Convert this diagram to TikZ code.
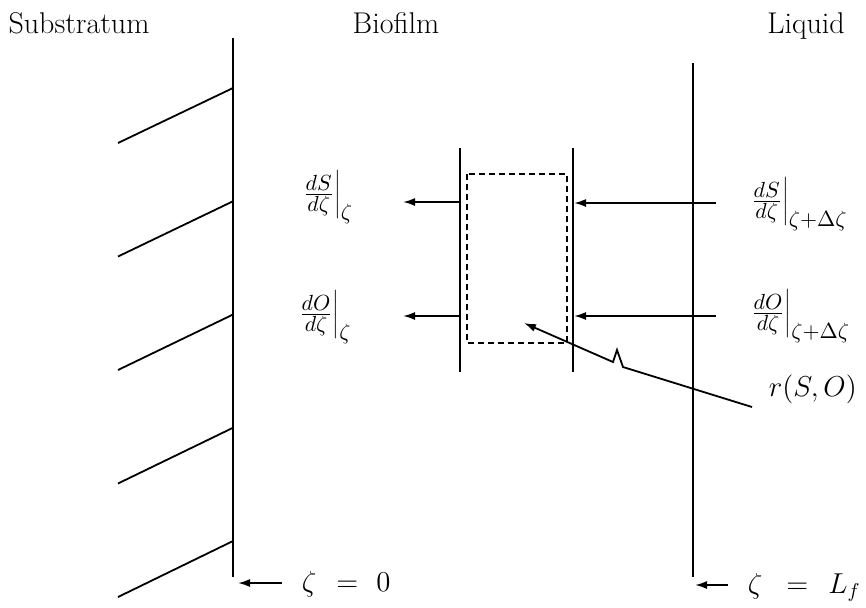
\documentclass[tikz,border=0pt]{standalone}
\usetikzlibrary{arrows.meta}
\begin{document}
\begin{tikzpicture}[x=0.5pt,y=-0.5pt,line width=0.9pt,
  arr/.style={-{Latex[length=6pt,width=4pt]}},
  lbl/.style={inner sep=0pt,font=\fontsize{15}{18}\selectfont},
  zlbl/.style={inner sep=0pt,font=\fontsize{14}{17}\selectfont},
  dashbox/.style={dash pattern=on 3pt off 2pt}]
\useasboundingbox (0,0) rectangle (866,607);
% titles
\node[lbl,anchor=base] (sub) at (79,33) {Substratum};
\node[lbl,anchor=base] (bio) at (396,33) {Biofilm};
\node[lbl,anchor=base] (liq) at (806,33) {Liquid};
% main interfaces
\coordinate (LT) at (233,38); \coordinate (LB) at (233,577);
\coordinate (RT) at (693,63); \coordinate (RB) at (693,577);
\draw (LT) -- (LB);
\draw (RT) -- (RB);
% hatching of the substratum
\foreach \i in {0,...,4}{
  \coordinate (h\i a) at (118,{143+113.5*\i});
  \coordinate (h\i b) at (233,{88+113.25*\i});
  \draw (h\i a) -- (h\i b);
}
% control volume
\coordinate (AT) at (460,148); \coordinate (AB) at (460,372);
\coordinate (BT) at (573,148); \coordinate (BB) at (573,372);
\draw (AT) -- (AB);
\draw (BT) -- (BB);
\coordinate (box1) at (467,174); \coordinate (box2) at (567,343);
\draw[dashbox,line width=0.8pt] (box1) rectangle (box2);
% flux arrows
\coordinate (s1) at (716,203); \coordinate (s1t) at (574,203);
\coordinate (s2) at (460,202); \coordinate (s2t) at (403,202);
\coordinate (o1) at (716,316); \coordinate (o1t) at (574,316);
\coordinate (o2) at (460,316); \coordinate (o2t) at (403,316);
\draw[arr] (s1) -- (s1t);
\draw[arr] (s2) -- (s2t);
\draw[arr] (o1) -- (o1t);
\draw[arr] (o2) -- (o2t);
% flux labels
\node[lbl,anchor=base west] (dSl) at (300,202) {$\left.\frac{dS}{d\zeta}\right|_{\zeta}$};
\node[lbl,anchor=base west] (dOl) at (296,322) {$\left.\frac{dO}{d\zeta}\right|_{\zeta}$};
\node[lbl,anchor=base west] (dSr) at (748,209) {$\left.\frac{dS}{d\zeta}\right|_{\zeta+\Delta\zeta}$};
\node[lbl,anchor=base west] (dOr) at (748,321) {$\left.\frac{dO}{d\zeta}\right|_{\zeta+\Delta\zeta}$};
% reaction
\node[lbl,anchor=base west] (r) at (768,396) {$r(S,O)$};
\coordinate (rE) at (752,407);
\coordinate (zR) at (623,367);
\coordinate (zQ) at (617,350);
\coordinate (zP) at (613,362);
\coordinate (rT) at (524,323);
\draw[arr,line join=miter] (rE) -- (zR) -- (zQ) -- (zP) -- (rT);
% boundary positions
\coordinate (z0s) at (282,583); \coordinate (z0t) at (238,583);
\draw[arr] (z0s) -- (z0t);
\node[zlbl,anchor=base west] (z0) at (301,591) {$\zeta\hspace{6pt}=\hspace{5pt}0$};
\coordinate (zLs) at (728,585); \coordinate (zLt) at (695,585);
\draw[arr] (zLs) -- (zLt);
\node[zlbl,anchor=base west] (zL) at (747,593) {$\zeta\hspace{8pt}=\hspace{6pt}L_f$};
\end{tikzpicture}
\end{document}
